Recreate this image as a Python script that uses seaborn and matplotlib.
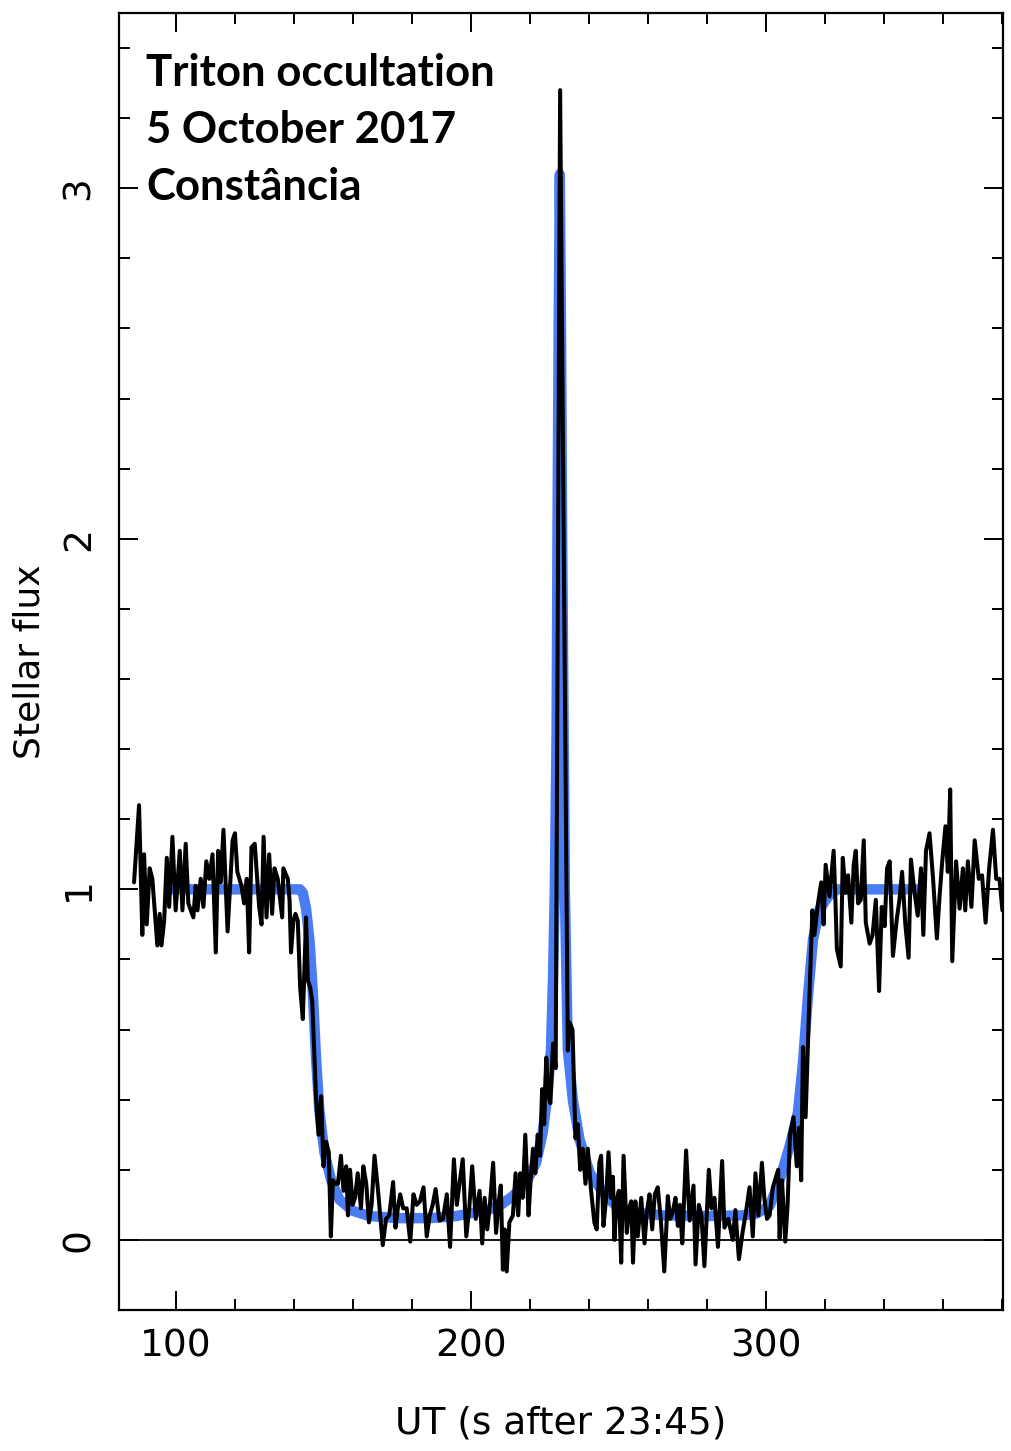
import matplotlib
matplotlib.use("Agg")
import matplotlib.pyplot as plt
from matplotlib.ticker import MultipleLocator
import seaborn as sns
import pandas as pd

time_s = [85.8, 87.5, 88.6, 89.2, 90.1, 91.1, 92.0, 93.7, 94.5, 95.1, 96.0, 96.9, 97.7, 98.8,
          99.9, 101.3, 102.2, 103.3, 104.2, 105.9, 106.7, 107.3, 108.4, 109.3, 110.3, 111.3,
          112.4, 113.5, 114.3, 115.2, 116.1, 117.5, 119.2, 120.0, 120.8, 122.2, 123.1, 124.0,
          124.8, 125.6, 126.7, 128.2, 129.0, 129.7, 130.7, 131.6, 132.6, 133.4, 134.5, 136.0,
          136.4, 137.9, 138.5, 139.0, 139.8, 140.5, 141.3, 142.1, 143.0, 144.1, 144.7, 145.5,
          146.2, 147.5, 148.3, 149.2, 150.0, 150.9, 151.8, 152.5, 153.2, 154.0, 154.9, 155.9,
          156.8, 157.7, 158.3, 159.0, 159.9, 160.7, 161.6, 162.7, 163.5, 164.5, 165.4, 166.3,
          167.3, 168.5, 170.1, 171.2, 172.3, 173.6, 174.4, 175.2, 176.0, 177.0, 178.2, 179.4,
          180.5, 181.6, 182.7, 183.9, 185.0, 186.0, 187.0, 188.0, 189.3, 190.5, 191.8, 192.9,
          194.2, 195.2, 196.1, 197.2, 198.4, 199.4, 200.4, 201.6, 202.9, 203.8, 204.6, 205.5,
          206.4, 207.5, 208.5, 209.4, 210.1, 210.8, 211.4, 212.1, 213.0, 214.2, 215.1, 216.0,
          216.7, 217.5, 218.4, 219.5, 220.2, 221.0, 221.8, 222.6, 223.4, 224.1, 224.8, 225.5,
          226.3, 226.9, 227.8, 228.7, 230.2, 232.8, 233.4, 234.4, 235.4, 236.2, 237.0, 237.9,
          238.8, 239.6, 240.7, 241.8, 242.6, 243.5, 244.1, 244.9, 245.8, 246.6, 247.4, 248.1,
          248.6, 249.3, 250.1, 250.9, 251.7, 252.8, 253.6, 254.3, 254.9, 255.7, 256.5, 257.7,
          258.8, 259.6, 260.5, 261.4, 262.3, 263.3, 264.3, 265.5, 266.7, 267.5, 268.4, 269.3,
          270.1, 270.8, 271.6, 272.9, 274.1, 275.4, 276.1, 277.2, 278.1, 279.1, 280.6, 281.5,
          282.5, 283.7, 285.1, 285.9, 287.2, 288.7, 289.6, 290.8, 292.1, 293.2, 294.4, 295.5,
          296.4, 297.4, 298.6, 299.4, 300.3, 301.2, 302.3, 303.4, 304.1, 304.6, 305.4, 306.5,
          307.3, 308.1, 309.3, 310.4, 311.2, 311.9, 312.5, 313.4, 314.8, 315.7, 316.4, 317.6,
          318.7, 319.5, 320.2, 321.5, 322.9, 323.5, 324.0, 325.3, 326.0, 326.9, 327.8, 328.9,
          329.7, 330.4, 331.2, 332.1, 333.1, 333.8, 335.1, 336.1, 337.2, 338.3, 339.2, 340.2,
          341.0, 341.9, 343.0, 344.3, 345.2, 346.1, 347.2, 348.3, 349.1, 350.2, 351.4, 352.5,
          353.3, 354.2, 355.4, 356.6, 357.9, 358.8, 359.7, 360.8, 361.6, 362.4, 363.1, 364.4,
          365.6, 366.7, 367.5, 368.4, 369.6, 370.7, 372.1, 373.2, 374.4, 375.6, 376.9, 378.0,
          379.1, 380.1]
flux = [1.02, 1.24, 0.87, 1.10, 0.90, 1.06, 1.03, 0.84, 0.93, 0.84, 0.91, 1.09, 0.95, 1.15,
        0.94, 1.11, 0.94, 1.13, 0.96, 0.92, 1.01, 0.94, 1.03, 0.95, 1.08, 1.03,
        1.10, 0.82, 1.11, 1.02, 1.17, 0.88, 1.14, 1.16, 1.05, 1.01, 0.96, 1.03,
        0.82, 1.12, 1.13, 0.95, 0.90, 1.15, 0.92, 1.10, 0.93, 1.06, 1.03, 0.92,
        1.06, 1.03, 0.97, 0.82, 0.91, 0.93, 0.91, 0.72, 0.63, 0.92, 0.74, 0.72,
        0.68, 0.40, 0.30, 0.41, 0.21, 0.28, 0.25, 0.01, 0.17, 0.16, 0.16, 0.24,
        0.14, 0.21, 0.07, 0.20, 0.10, 0.12, 0.19, 0.09, 0.21, 0.16, 0.05, 0.10,
        0.24, 0.14, -0.015, 0.06, 0.07, 0.165, 0.035, 0.09, 0.13, 0.09, 0.09, -0.005,
        0.13, 0.10, 0.11, 0.15, 0.01, 0.07, 0.10, 0.145, 0.055, 0.06, 0.13, -0.02,
        0.23, 0.10, 0.16, 0.23, 0.01, 0.09, 0.21, 0.06, 0.14, -0.01, 0.12, 0.03,
        0.10, 0.22, 0.02, 0.11, 0.155, -0.085, 0.03, -0.09, 0.05, 0.07, 0.19, 0.07,
        0.19, 0.12, 0.30, 0.07, 0.17, 0.26, 0.19, 0.30, 0.24, 0.43, 0.33, 0.52,
        0.41, 0.39, 0.56, 0.49, 3.28, 0.54, 0.62, 0.60, 0.29, 0.33, 0.20, 0.26,
        0.16, 0.26, 0.14, 0.05, 0.03, 0.22, 0.24, 0.04, 0.12, 0.25, 0.12, 0.18,
        0.00, 0.11, 0.14, -0.065, 0.24, 0.02, 0.09, 0.11, -0.065, 0.11, 0.01, 0.12,
        -0.01, 0.08, 0.13, 0.03, 0.13, 0.15, 0.06, -0.09, 0.125, 0.06, 0.08, 0.12,
        0.04, 0.10, -0.01, 0.255, 0.055, 0.155, -0.07, 0.10, 0.07, -0.075, 0.20, 0.09,
        0.12, -0.02, 0.225, 0.035, 0.06, 0.00, 0.085, -0.055, 0.025, 0.08, 0.15, 0.01,
        0.19, 0.07, 0.22, 0.12, 0.06, 0.07, 0.15, 0.18, 0.20, 0.005, 0.17, -0.005,
        0.10, 0.30, 0.35, 0.21, 0.32, 0.17, 0.55, 0.35, 0.72, 0.94, 0.87, 0.96,
        1.02, 0.90, 1.07, 0.98, 1.11, 0.97, 0.83, 0.78, 1.09, 0.99, 1.04, 0.905,
        1.07, 1.11, 0.96, 0.97, 1.14, 0.905, 0.845, 0.87, 0.97, 0.71, 0.95, 0.895,
        1.06, 1.08, 0.81, 0.915, 0.97, 1.05, 0.90, 0.805, 1.085, 1.00, 0.925, 1.06,
        0.87, 1.11, 1.16, 1.03, 0.86, 0.98, 1.08, 1.18, 1.05, 1.285, 0.795, 1.08,
        0.945, 1.06, 0.94, 1.08, 0.95, 1.14, 1.03, 1.04, 0.905, 1.06, 1.17, 1.03,
        1.03, 0.94]

# fitted model curve
model_time = [98.0, 142.0, 143.0, 144.1, 145.3, 146.4, 147.5, 148.6, 150.3, 152.6, 155.4,
              159.9, 165.6, 175.0, 186.0, 195.0, 201.7, 206.2, 209.6, 214.2, 218.7, 222.1,
              224.3, 226.0, 227.1, 227.8, 228.4, 229.0, 229.3, 229.7, 230.1, 230.5, 230.9,
              231.4, 231.8, 232.8, 234.5, 236.8, 240.2, 244.7, 249.2, 255.0, 265.0, 280.0,
              292.0, 296.7, 301.2, 304.6, 308.0, 310.8, 312.5, 314.2, 315.9, 318.1, 321.5,
              324.0, 351.0]
model_flux = [1.0, 1.0, 0.99, 0.945, 0.85, 0.705, 0.515, 0.37, 0.25, 0.17, 0.115,
              0.083, 0.068, 0.062, 0.062, 0.068, 0.079, 0.087, 0.097, 0.125, 0.164, 0.221,
              0.306, 0.42, 0.544, 0.75, 1.0, 1.45, 2.0, 2.6, 3.04, 2.6, 2.0,
              1.45, 1.0, 0.544, 0.40, 0.286, 0.192, 0.135, 0.097, 0.078, 0.07, 0.068,
              0.07, 0.075, 0.097, 0.17, 0.268, 0.364, 0.506, 0.695, 0.857, 0.943, 0.985,
              1.0, 1.0]

title_lines = ['Triton occultation', '5 October 2017', 'Constância']

sns.set_style("ticks")
plt.rcParams['font.family'] = ['DejaVu Sans']
plt.rcParams['text.color'] = 'black'
plt.rcParams['axes.labelcolor'] = 'black'
plt.rcParams['xtick.color'] = 'black'
plt.rcParams['ytick.color'] = 'black'

fig = plt.figure(figsize=(10.11, 14.51), dpi=100)
ax = fig.add_axes([119 / 1011, 1 - 1310 / 1451, 884 / 1011, 1297 / 1451])

obs = pd.DataFrame({'time': time_s, 'flux': flux})
model = pd.DataFrame({'time': model_time, 'flux': model_flux})

ax.axhline(0, color='black', lw=1.3, zorder=1)
sns.lineplot(data=model, x='time', y='flux', color='#4a7cf4', lw=7.5,
             estimator=None, sort=False, ax=ax, zorder=2)
sns.lineplot(data=obs, x='time', y='flux', color='black', lw=2.9,
             estimator=None, sort=False, ax=ax, zorder=3)

ax.set_xlim(80.7, 380.3)
ax.set_ylim(-0.2, 3.5)

ax.xaxis.set_major_locator(MultipleLocator(100))
ax.xaxis.set_minor_locator(MultipleLocator(20))
ax.yaxis.set_major_locator(MultipleLocator(1))
ax.yaxis.set_minor_locator(MultipleLocator(0.2))
ax.tick_params(which='both', direction='in', top=True, right=True, width=1.4, color='black')
ax.tick_params(which='major', length=14)
ax.tick_params(which='minor', length=8)
ax.tick_params(axis='x', labelsize=27, pad=13)
ax.tick_params(axis='y', labelsize=27, pad=16, labelrotation=90)
for lab in ax.get_yticklabels():
    lab.set_va('center')
for side in ax.spines.values():
    side.set_linewidth(1.6)
    side.set_color('black')

ax.set_xlabel('UT (s after 23:45)', fontsize=27, labelpad=30)
ax.set_ylabel('Stellar flux', fontsize=26, labelpad=10)

for i, line in enumerate(title_lines):
    fig.text(146 / 1011, 1 - (86 + 57 * i) / 1451, line, fontsize=31.5, fontweight='bold',
             family=['Lato', 'DejaVu Sans'], va='baseline', ha='left', color='black')

plt.savefig('out.png', dpi=100)
